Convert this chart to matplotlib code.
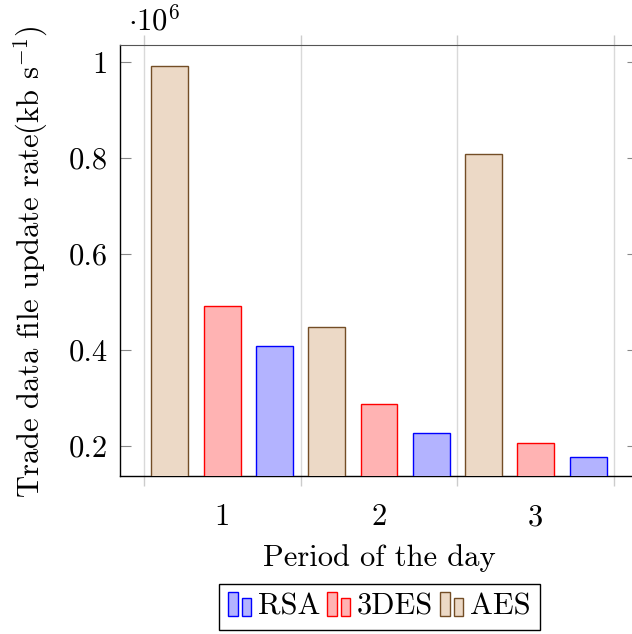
import matplotlib
matplotlib.use("Agg")
import matplotlib.pyplot as plt
import matplotlib.ticker as mticker
from matplotlib.patches import Rectangle
from matplotlib.legend_handler import HandlerBase
import numpy as np

plt.rcParams["font.family"] = ["cmr10"]
plt.rcParams["mathtext.fontset"] = "cm"
plt.rcParams["axes.formatter.use_mathtext"] = True
plt.rcParams["font.size"] = 22

# Periods of the day and update rates (kb/s)
periods = [1, 2, 3]
period_labels = ["1", "2", "3"]
rsa = [408000, 228000, 177000]
des3 = [492000, 288000, 207000]
aes = [992000, 448000, 808000]

series = [
    ("AES", aes, "#ECD9C6", "#734D26", -0.335),
    ("3DES", des3, "#FFB3B3", "#FF0000", 0.0),
    ("RSA", rsa, "#B3B3FF", "#0000FF", 0.335),
]
legend_order = ["RSA", "3DES", "AES"]

W, H = 632, 634
fig = plt.figure(figsize=(W / 100, H / 100), dpi=100)
ax = fig.add_axes([120 / W, 1 - 476 / H, 518 / W, 431 / H])

x = np.array(periods, dtype=float)
handles = {}
for name, vals, fc, ec, off in series:
    b = ax.bar(x + off, vals, width=0.234, bottom=0, color=fc, edgecolor=ec,
               linewidth=1.0, zorder=3, label=name)
    handles[name] = b

ax.set_xlim(0.347, 3.653)
ax.set_ylim(0.138e6, 1.036e6)

# x axis: labels at periods, grid/ticks between groups
ax.set_xticks(periods)
ax.set_xticklabels(period_labels)
ax.set_xticks([0.5, 1.5, 2.5, 3.5], minor=True)
ax.tick_params(axis="x", which="major", length=0, pad=20)
ax.tick_params(axis="x", which="minor", direction="out", length=7.5,
               color="#cccccc", width=1.0, top=True, bottom=True)
ax.grid(True, axis="x", which="minor", color="#d9d9d9", linewidth=1.0, zorder=0)

# y axis scaled by 10^6
ax.set_yticks([0.2e6, 0.4e6, 0.6e6, 0.8e6, 1.0e6])
ax.yaxis.set_major_formatter(mticker.FuncFormatter(lambda v, p: f"{v / 1e6:g}"))
ax.tick_params(axis="y", direction="in", length=8, color="#888888", width=0.8,
               left=True, right=True, pad=9)
ax.text(0.016, 1.02, r"$\cdot 10^{6}$", transform=ax.transAxes,
        ha="left", va="bottom", fontsize=22)

for side in ["left", "bottom"]:
    ax.spines[side].set_color("black")
    ax.spines[side].set_linewidth(1.0)
ax.spines["top"].set_color("#555555")
ax.spines["right"].set_color("#555555")

ax.set_xlabel("Period of the day", labelpad=9)
ax.set_ylabel(r"Trade data file update rate(kb s$^{-1}$)")
ax.yaxis.set_label_coords(-70 / 518, 0.4965)


class TwoBarHandler(HandlerBase):
    """Legend key drawn as two small bars of unequal height."""
    def create_artists(self, legend, orig_handle, xdescent, ydescent,
                       width, height, fontsize, trans):
        patch = orig_handle.patches[0]
        fc = patch.get_facecolor()
        ec = patch.get_edgecolor()
        bw = width * 0.40
        y0 = -ydescent - 0.12 * fontsize
        r1 = Rectangle((-xdescent, y0), bw, 0.79 * fontsize,
                       facecolor=fc, edgecolor=ec, linewidth=1.0, transform=trans)
        r2 = Rectangle((-xdescent + width * 0.56, y0), bw, 0.59 * fontsize,
                       facecolor=fc, edgecolor=ec, linewidth=1.0, transform=trans)
        return [r1, r2]


leg = fig.legend([handles[n] for n in legend_order], legend_order,
                 loc="upper center", bbox_to_anchor=(379.5 / W, 1 - 584 / H),
                 borderaxespad=0.0,
                 ncol=3, frameon=True, fancybox=False, edgecolor="black",
                 framealpha=1, fontsize=22, handlelength=0.78, handleheight=0.5,
                 handletextpad=0.2, columnspacing=0.22, borderpad=0.3,
                 handler_map={type(handles["RSA"]): TwoBarHandler()})
leg.get_frame().set_linewidth(1.0)

fig.savefig("out.png", dpi=100)
